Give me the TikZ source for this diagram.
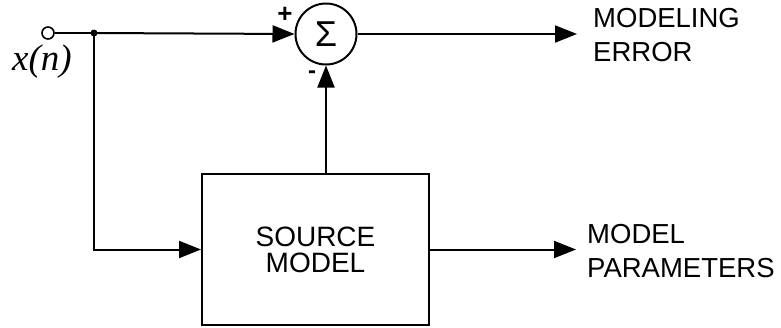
\documentclass[tikz,border=0pt]{standalone}
\usepackage{fontspec}
\setmainfont{Liberation Sans}
\newfontfamily\serifit{Liberation Serif}
\usetikzlibrary{arrows.meta}
\begin{document}
\begin{tikzpicture}[x=1pt,y=-1pt,
  wire/.style={line width=2pt},
  arr/.style={wire,-{Triangle[length=22pt,width=17pt]}},
  lbl/.style={font=\fontsize{27.5}{34}\selectfont,align=left,anchor=west,inner sep=0pt},
  blk/.style={draw,line width=2pt,minimum width=227pt,minimum height=151pt,font=\fontsize{28}{26}\selectfont,align=center}]
\useasboundingbox (0,0) rectangle (781,327);
\node[draw,circle,line width=1.6pt,fill=white,minimum size=12pt,inner sep=0pt] (in) at (48,33) {};
\node[font=\serifit\itshape\fontsize{37}{37}\selectfont,inner sep=0pt] (xn) at (42,62) {x(n)};
\coordinate (j) at (94,33);
\fill (j) circle (3.5pt);
\node[draw,circle,line width=2pt,minimum size=61pt,inner sep=0pt,font=\fontsize{36}{36}\selectfont] (sum) at (326,34) {};
\node[font=\fontsize{36}{36}\selectfont,inner sep=0pt] at (sum) {Σ};
\node[draw,line width=2pt,minimum width=227pt,minimum height=151pt] (box) at (315.5,249.5) {};
\node[font=\fontsize{28}{26}\selectfont,align=center] at (box) {SOURCE\\MODEL};
\node[font=\fontsize{26}{26}\selectfont\bfseries,inner sep=0pt] (plus) at (285,15) {+};
\node[font=\fontsize{24}{24}\selectfont\bfseries,inner sep=0pt] (minus) at (312,75) {-};
\node[lbl] (err) at (593,35) {MODELING\\ERROR};
\node[lbl] (par) at (587,251.5) {MODEL\\PARAMETERS};
\coordinate (eend) at (577,34);
\coordinate (pend) at (576,249.5);
\draw[wire] (in.east) -- (j);
\draw[arr] (j) -- (sum.west);
\draw[arr] (j) |- (box.west);
\draw[arr] (box.north -| sum.south) -- (sum.south);
\draw[arr] (sum.east) -- (eend);
\draw[arr] (box.east) -- (pend);
\end{tikzpicture}
\end{document}
